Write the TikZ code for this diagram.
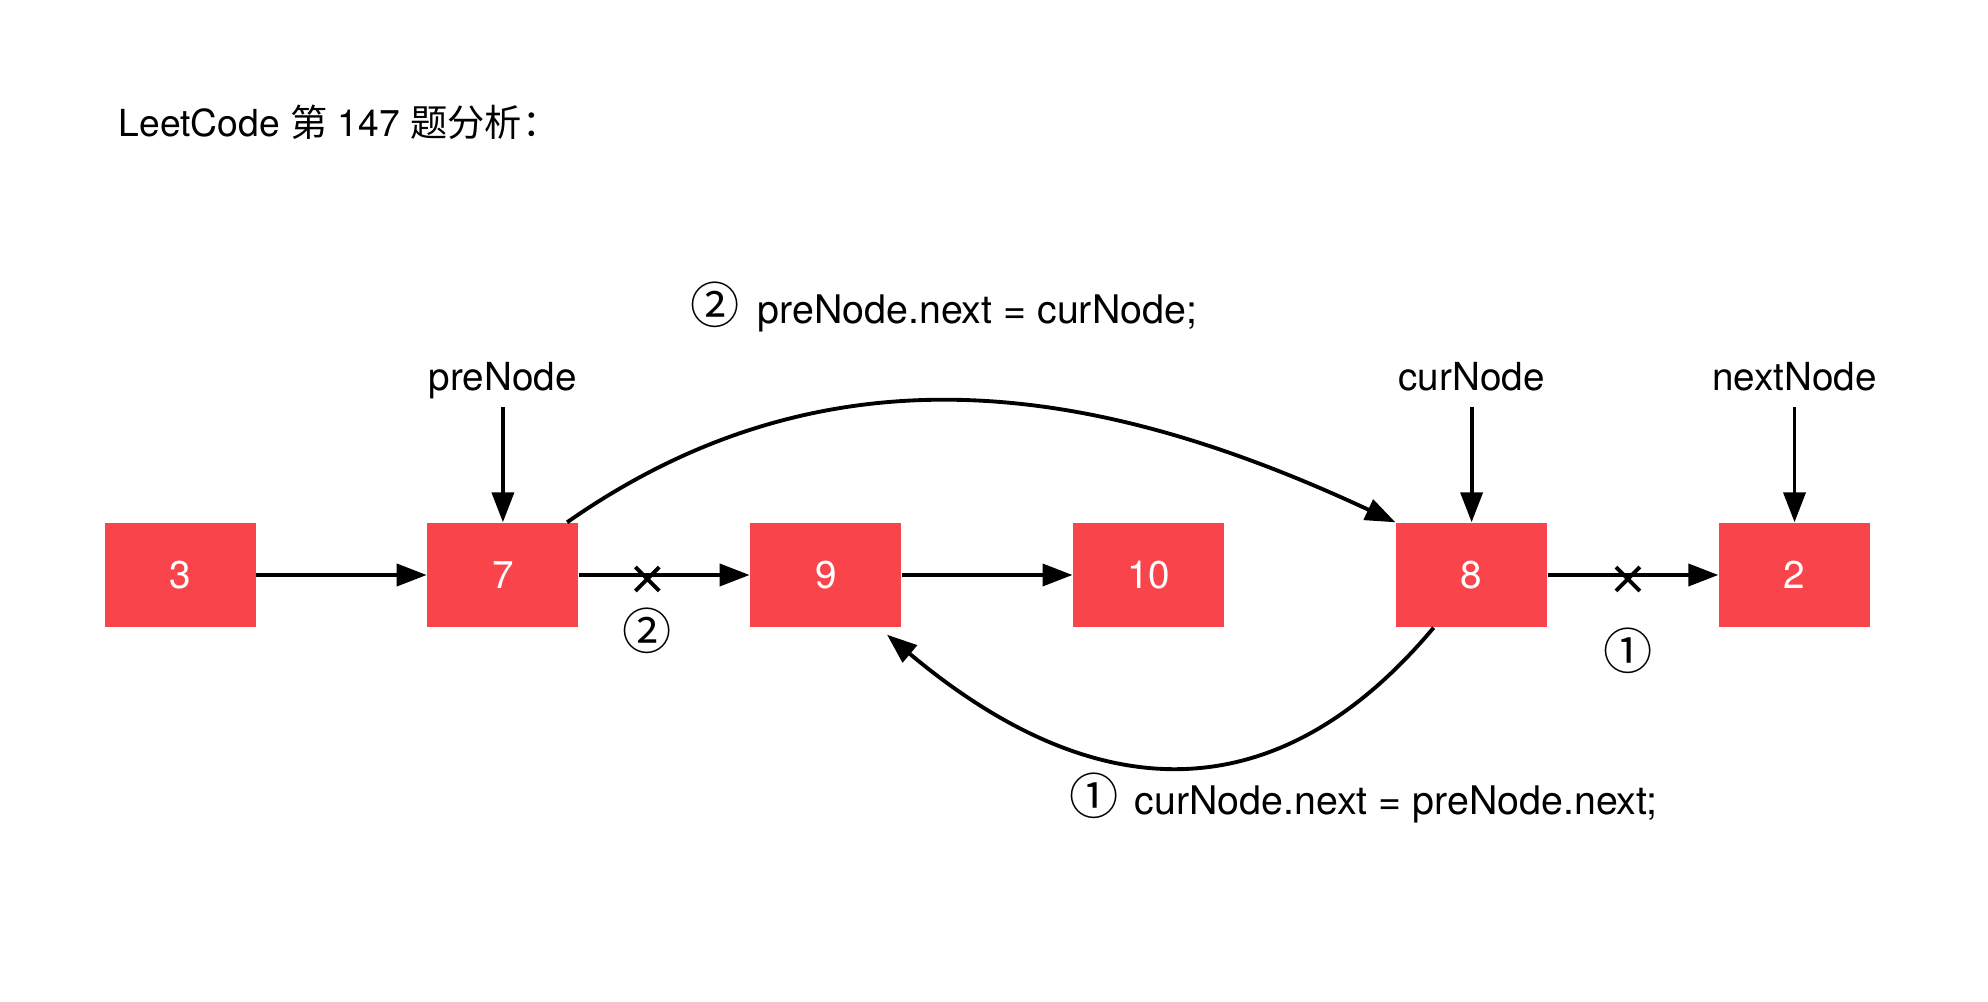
\documentclass[tikz,border=0pt]{standalone}
\usepackage{fontspec}
\setmainfont{TeX Gyre Heros}
\newfontfamily\cjk{Noto Sans CJK SC}
\usetikzlibrary{arrows.meta,positioning,shapes.misc,calc}
\definecolor{nodered}{RGB}{250,68,76}
\newcommand{\stepmark}[1]{{\cjk\fontsize{14}{14}\selectfont #1}}
\tikzset{
  listnode/.style={fill=nodered,text=white,minimum width=1.51cm,minimum height=1.04cm,inner sep=0pt},
  ptrlabel/.style={text height=1.6ex,text depth=0.5ex,inner sep=2pt},
  arr/.style={-{Triangle[length=0.3cm,width=0.22cm]},draw=black,line width=1.1pt},
  cut/.style={cross out,draw=black,line width=1.1pt,minimum size=0.2cm,inner sep=0pt},
  note/.style={anchor=west,inner sep=0pt,font=\fontsize{11.2}{13}\selectfont}
}
\begin{document}
\begin{tikzpicture}[node distance=1.705cm,font=\fontsize{11}{13}\selectfont]
  \useasboundingbox (0,0) rectangle (19.88,-10.02);
  \node[note,font=\fontsize{10.6}{13}\selectfont] (title) at (1.18,-1.22) {LeetCode {\cjk 第} 147 {\cjk 题分析：}};

  % the list
  \node[listnode] (n3) at (1.80,-5.75) {3};
  \node[listnode,right=of n3] (n7) {7};
  \node[listnode,right=of n7] (n9) {9};
  \node[listnode,right=of n9] (n10) {10};
  \node[listnode,right=of n10] (n8) {8};
  \node[listnode,right=of n8] (n2) {2};

  % pointers
  \node[ptrlabel,above=1.15cm of n7] (pre) {preNode};
  \node[ptrlabel,above=1.15cm of n8] (cur) {curNode};
  \node[ptrlabel,above=1.15cm of n2] (nxt) {nextNode};
  \draw[arr] (pre) -- (n7);
  \draw[arr] (cur) -- (n8);
  \draw[arr] (nxt) -- (n2);

  \draw[arr] (n3) -- (n7);
  \draw[arr] (n7) -- node[cut,pos=0.4,yshift=-0.04cm] (cut2) {} (n9);
  \draw[arr] (n9) -- (n10);
  \draw[arr] (n8) -- node[cut,pos=0.47,yshift=-0.04cm] (cut1) {} (n2);
  \node[below=0.05cm of cut2] (step2) {\stepmark{②}};
  \node[below=0.25cm of cut1] (step1) {\stepmark{①}};

  % new links
  \draw[arr] ([xshift=-0.12cm]n7.north east) to[out=35,in=155] (n8.north west);
  \draw[arr] ([xshift=-0.38cm]n8.south) to[out=230,in=-40,looseness=1.2] ([xshift=-0.15cm,yshift=-0.07cm]n9.south east);

  \node[note] (code2) at (6.90,-3.07) {\stepmark{②}\hspace{0.45em}preNode.next = curNode;};
  \node[note] (code1) at (10.69,-7.98) {\stepmark{①}\hspace{0.4em}curNode.next = preNode.next;};
\end{tikzpicture}
\end{document}
